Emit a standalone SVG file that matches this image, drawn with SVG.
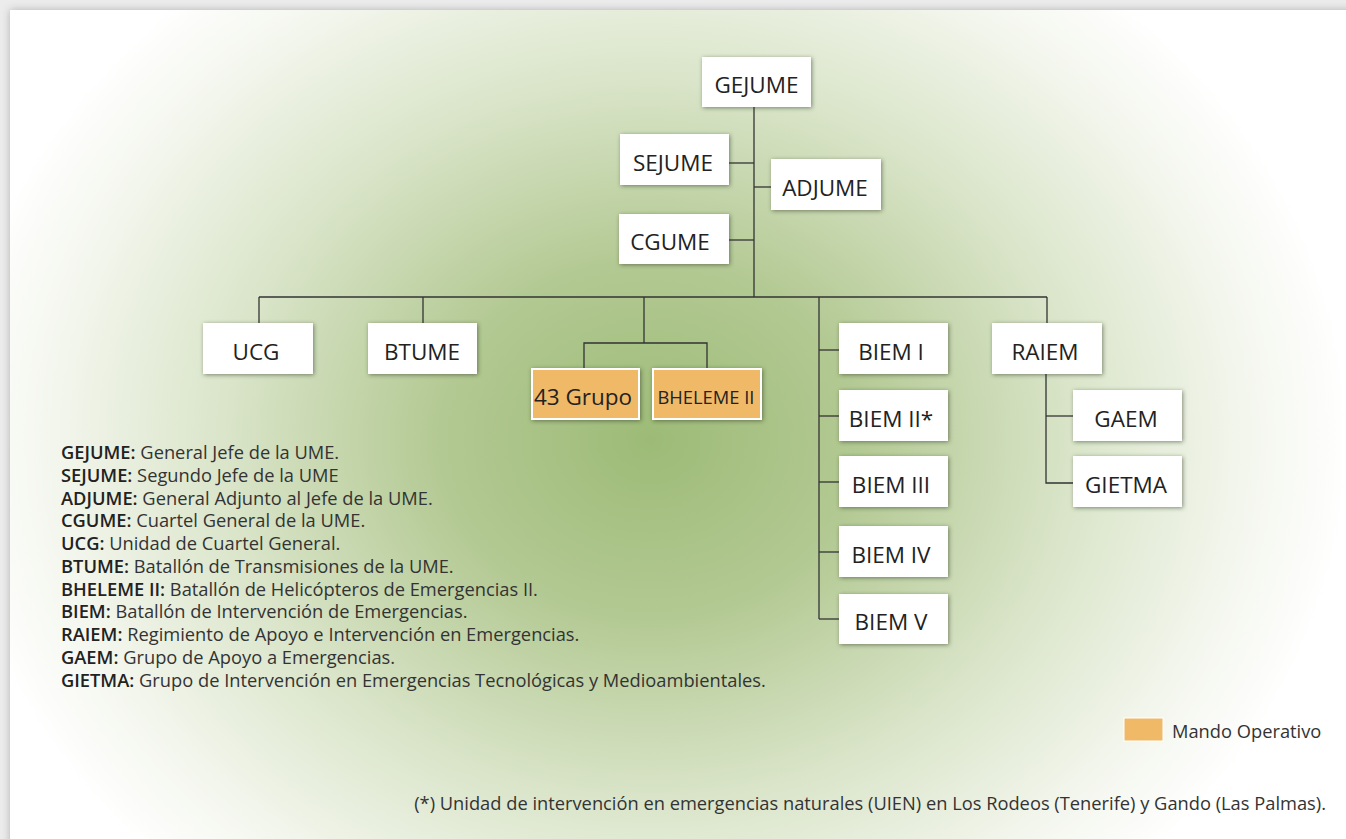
<svg xmlns="http://www.w3.org/2000/svg" width="1346" height="839" viewBox="0 0 1346 839">
<defs>
<radialGradient id="bg" gradientUnits="userSpaceOnUse" cx="650" cy="440" r="700" gradientTransform="translate(650 440) scale(1 0.85) translate(-650 -440)">
<stop offset="0" stop-color="#9dbb77"/>
<stop offset="0.3" stop-color="#b3c993"/>
<stop offset="0.6" stop-color="#d9e4c8"/>
<stop offset="0.85" stop-color="#f3f6ed"/>
<stop offset="1" stop-color="#ffffff"/>
</radialGradient>
<filter id="sh" x="-20%" y="-30%" width="140%" height="160%">
<feDropShadow dx="1" dy="1" stdDeviation="2.2" flood-color="#2a3520" flood-opacity="0.55"/>
</filter>
<filter id="psh" x="-5%" y="-5%" width="110%" height="110%">
<feDropShadow dx="0" dy="0" stdDeviation="4" flood-color="#000" flood-opacity="0.25"/>
</filter>
</defs>
<style>
.box{fill:#fff;filter:url(#sh)}
.op{fill:#f0b968;stroke:#fff;stroke-width:2;filter:url(#sh)}
.lbl{font-family:"Open Sans","Noto Sans",sans-serif;font-size:22.5px;fill:#222;text-anchor:middle}
.lbs{font-family:"Open Sans","Noto Sans",sans-serif;font-size:19px;fill:#222;text-anchor:middle}
.leg{font-family:"Open Sans","Noto Sans",sans-serif;font-size:18.3px;fill:#333}
.leg tspan.b{font-weight:600;fill:#222}
.con{fill:none;stroke:#333;stroke-width:1.3}
</style>
<rect x="0" y="0" width="1346" height="839" fill="#ececec"/>
<rect x="10" y="10" width="1346" height="839" fill="url(#bg)" filter="url(#psh)"/>

<g id="connectors" class="con">
<path d="M754 107V297"/>
<path d="M729 163H754"/>
<path d="M754 187H771"/>
<path d="M729 240H754"/>
<path d="M259 297H1047"/>
<path d="M259 297V323"/>
<path d="M423 297V323"/>
<path d="M644 297V343"/>
<path d="M584 369V343H707V369"/>
<path d="M819 297V619"/>
<path d="M819 350H839"/>
<path d="M819 416H839"/>
<path d="M819 482H839"/>
<path d="M819 552H839"/>
<path d="M819 619H839"/>
<path d="M1047 297V323"/>
<path d="M1046 374V483H1073"/>
<path d="M1046 416H1073"/>
</g>

<g id="GEJUME"><rect class="box" x="702" y="57" width="109" height="50"/><text class="lbl" x="756.5" y="92.5">GEJUME</text></g>
<g id="SEJUME"><rect class="box" x="620" y="134" width="109" height="51"/><text class="lbl" x="673" y="170.5">SEJUME</text></g>
<g id="ADJUME"><rect class="box" x="771" y="159" width="110" height="51"/><text class="lbl" x="825" y="195.5">ADJUME</text></g>
<g id="CGUME"><rect class="box" x="619" y="214" width="110" height="50"/><text class="lbl" x="670" y="250">CGUME</text></g>
<g id="UCG"><rect class="box" x="203" y="323" width="110" height="51"/><text class="lbl" x="256" y="359.5">UCG</text></g>
<g id="BTUME"><rect class="box" x="368" y="323" width="109" height="51"/><text class="lbl" x="422" y="359.5">BTUME</text></g>
<g id="G43"><rect class="op" x="532" y="369" width="107" height="50"/><text class="lbl" x="583" y="404.5">43 Grupo</text></g>
<g id="BHELEME"><rect class="op" x="653" y="369" width="108" height="50"/><text class="lbs" x="706" y="403.5" textLength="97" lengthAdjust="spacingAndGlyphs">BHELEME II</text></g>
<g id="BIEM1"><rect class="box" x="839" y="323" width="109" height="51"/><text class="lbl" x="891" y="359.5">BIEM I</text></g>
<g id="BIEM2"><rect class="box" x="839" y="390" width="109" height="51"/><text class="lbl" x="891" y="426.5">BIEM II*</text></g>
<g id="BIEM3"><rect class="box" x="839" y="456" width="109" height="51"/><text class="lbl" x="891" y="492.5">BIEM III</text></g>
<g id="BIEM4"><rect class="box" x="839" y="526" width="109" height="51"/><text class="lbl" x="891" y="562.5">BIEM IV</text></g>
<g id="BIEM5"><rect class="box" x="839" y="594" width="109" height="50"/><text class="lbl" x="891" y="630">BIEM V</text></g>
<g id="RAIEM"><rect class="box" x="992" y="323" width="110" height="51"/><text class="lbl" x="1045" y="359.5">RAIEM</text></g>
<g id="GAEM"><rect class="box" x="1073" y="390" width="109" height="51"/><text class="lbl" x="1126" y="426.5">GAEM</text></g>
<g id="GIETMA"><rect class="box" x="1073" y="456" width="109" height="51"/><text class="lbl" x="1126" y="492.5">GIETMA</text></g>

<g id="legend">
<text class="leg" x="61" y="459"><tspan class="b">GEJUME:</tspan> General Jefe de la UME.</text>
<text class="leg" x="61" y="482"><tspan class="b">SEJUME:</tspan> Segundo Jefe de la UME</text>
<text class="leg" x="61" y="504.5"><tspan class="b">ADJUME:</tspan> General Adjunto al Jefe de la UME.</text>
<text class="leg" x="61" y="527"><tspan class="b">CGUME:</tspan> Cuartel General de la UME.</text>
<text class="leg" x="61" y="550"><tspan class="b">UCG:</tspan> Unidad de Cuartel General.</text>
<text class="leg" x="61" y="573"><tspan class="b">BTUME:</tspan> Batallón de Transmisiones de la UME.</text>
<text class="leg" x="61" y="595.5"><tspan class="b">BHELEME II:</tspan> Batallón de Helicópteros de Emergencias II.</text>
<text class="leg" x="61" y="618"><tspan class="b">BIEM:</tspan> Batallón de Intervención de Emergencias.</text>
<text class="leg" x="61" y="641"><tspan class="b">RAIEM:</tspan> Regimiento de Apoyo e Intervención en Emergencias.</text>
<text class="leg" x="61" y="664"><tspan class="b">GAEM:</tspan> Grupo de Apoyo a Emergencias.</text>
<text class="leg" x="61" y="686.5"><tspan class="b">GIETMA:</tspan> Grupo de Intervención en Emergencias Tecnológicas y Medioambientales.</text>
</g>

<g id="key">
<rect x="1124" y="718" width="39" height="23" fill="#f0b968" stroke="#fff" stroke-width="1"/>
<text class="leg" x="1172" y="738">Mando Operativo</text>
</g>
<text class="leg" x="1326" y="810" text-anchor="end">(*) Unidad de intervención en emergencias naturales (UIEN) en Los Rodeos (Tenerife) y Gando (Las Palmas).</text>
</svg>
